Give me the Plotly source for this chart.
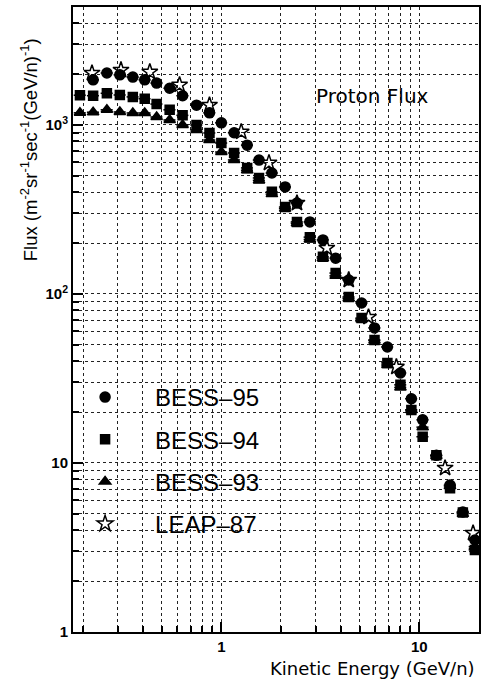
import numpy as np
import plotly.graph_objects as go

# Kinetic energy (GeV/n) and flux values
bess95_e = [0.225, 0.264, 0.307, 0.357, 0.410, 0.471, 0.548, 0.637, 0.749, 0.871, 1.0, 1.16, 1.35, 1.55,
            1.80, 2.10, 2.41, 2.80, 3.26, 3.78, 4.40, 5.11, 5.94, 6.90, 8.03, 9.12, 10.4, 12.2, 14.3, 16.6, 19.1]
bess95_f = [1850, 2030, 1980, 1920, 1850, 1770, 1650, 1490, 1310, 1180, 1030, 900, 760, 620,
            520, 430, 345, 267, 209, 163, 121, 88.5, 63, 48.6, 34.1, 24, 18.0, 11.1, 7.4, 5.13, 3.5]

bess94_e = [0.193, 0.225, 0.264, 0.307, 0.357, 0.410, 0.471, 0.548, 0.637, 0.749, 0.871, 1.0, 1.16, 1.35,
            1.55, 1.80, 2.10, 2.41, 2.80, 3.26, 3.78, 4.40, 5.11, 5.94, 6.90, 8.03, 9.12, 10.4, 12.2, 14.3, 16.6, 19.1]
bess94_f = [1500, 1490, 1540, 1505, 1466, 1430, 1330, 1230, 1140, 1000, 897, 782, 683, 557,
            486, 402, 327, 267, 217, 166, 133, 96, 72, 53.5, 39.1, 29.0, 20.6, 14.3, 11.1, 7.1, 5.1, 3.06]

bess93_e = [0.193, 0.225, 0.264, 0.307, 0.357, 0.410, 0.471, 0.548, 0.637, 0.749, 0.871, 1.0, 1.16, 1.35,
            1.55, 1.80, 2.10, 2.41, 2.80, 3.26, 3.78, 4.40, 5.11, 5.94, 6.90, 8.03, 9.12, 10.4, 12.2, 14.3, 16.6, 19.1]
bess93_f = [1180, 1190, 1230, 1194, 1178, 1178, 1115, 1071, 1000, 934, 815, 692, 621, 540,
            470, 390, 320, 262, 210, 163, 128, 94, 71, 53, 38, 28, 20.6, 16.3, 11, 7.3, 5.0, 3.2]

leap87_e = [0.222, 0.311, 0.435, 0.615, 0.871, 1.26, 1.74, 2.41, 3.41, 4.40, 5.54, 7.66, 13.5, 18.7]
leap87_f = [2030, 2115, 2060, 1725, 1312, 910, 596, 345, 187, 121, 73, 37, 9.34, 3.85]

series_names = ["BESS\u201395", "BESS\u201394", "BESS\u201393", "LEAP\u201387"]

x_major = [1, 10]
x_major_text = ["<b>1</b>", "<b>10</b>"]
y_major = [1, 10, 100, 1000]
y_major_text = ["<b>1</b>", "<b>10</b>", "<b>10<sup>2</sup></b>", "<b>10<sup>3</sup></b>"]

x_minor = [m * d for d in (0.1, 1, 10) for m in range(2, 10)] + [20]
y_minor = [m * d for d in (1, 10, 100, 1000) for m in range(2, 10)]

fig = go.Figure()

styles = [
    dict(symbol="circle", size=10),
    dict(symbol="square", size=9),
    dict(symbol="triangle-up", size=10),
    dict(symbol="star-open", size=12),
]
data = [(bess95_e, bess95_f), (bess94_e, bess94_f), (bess93_e, bess93_f), (leap87_e, leap87_f)]

for i, ((e, f), name, st) in enumerate(zip(data, series_names, styles)):
    fig.add_trace(go.Scatter(
        x=e, y=f, mode="markers", name=name, legendgroup=name,
        marker=dict(symbol=st["symbol"], size=st["size"], color="black",
                    line=dict(color="black", width=1.5)),
        error_x=dict(type="percent", value=7, color="black", thickness=1.5, width=0) if i < 3 else None,
    ))

axis_common = dict(
    type="log", showline=True, linewidth=2, linecolor="black", mirror=True,
    ticks="inside", tickcolor="black", tickwidth=1.5, ticklen=10,
    showgrid=True, gridcolor="#222", griddash="dot", gridwidth=1,
    zeroline=False,
    tickfont=dict(family="Liberation Sans, Arial", size=15, color="black"),
)

fig.update_xaxes(
    **axis_common,
    range=[np.log10(0.178), np.log10(20.03)],
    tickmode="array", tickvals=x_major, ticktext=x_major_text,
    minor=dict(tickmode="array", tickvals=x_minor, ticks="inside", ticklen=6, tickcolor="black",
               showgrid=True, gridcolor="#222", griddash="dot", gridwidth=1),
)
fig.update_yaxes(
    **axis_common,
    range=[0, np.log10(4990)],
    tickmode="array", tickvals=y_major, ticktext=y_major_text,
    minor=dict(tickmode="array", tickvals=y_minor, ticks="inside", ticklen=6, tickcolor="black",
               showgrid=True, gridcolor="#222", griddash="dot", gridwidth=1),
)

fig.add_annotation(
    text="Flux (m<sup>-2</sup>sr<sup>-1</sup>sec<sup>-1</sup>(GeV/n)<sup>-1</sup>)",
    xref="paper", yref="paper", x=(29 - 73) / 408, y=(632 - 150) / 625,
    textangle=-90, showarrow=False, xanchor="center", yanchor="middle",
    font=dict(family="Liberation Sans, Arial", size=18.5, color="black"),
)
fig.add_annotation(
    text="Kinetic Energy (GeV/n)",
    xref="paper", yref="paper", x=(479 - 73) / 408, y=(632 - 668) / 625,
    showarrow=False, xanchor="right", yanchor="middle",
    font=dict(family="DejaVu Sans", size=18, color="black"),
)
fig.add_annotation(
    text="Proton Flux",
    xref="paper", yref="paper", x=(374 - 73) / 408, y=(632 - 96) / 625,
    showarrow=False, xanchor="center", yanchor="middle",
    font=dict(family="DejaVu Sans", size=20, color="black"),
)

fig.update_layout(
    width=481, height=681,
    margin=dict(l=73, r=0, t=7, b=49),
    paper_bgcolor="white", plot_bgcolor="white",
    showlegend=True,
    legend=dict(
        x=(55 - 73) / 408, y=(632 - 375) / 625, xanchor="left", yanchor="top",
        bgcolor="rgba(0,0,0,0)", borderwidth=0,
        font=dict(family="Liberation Sans, Arial", size=24, color="black"),
        tracegroupgap=8, itemwidth=90,
    ),
)

fig.write_html("out.html")
